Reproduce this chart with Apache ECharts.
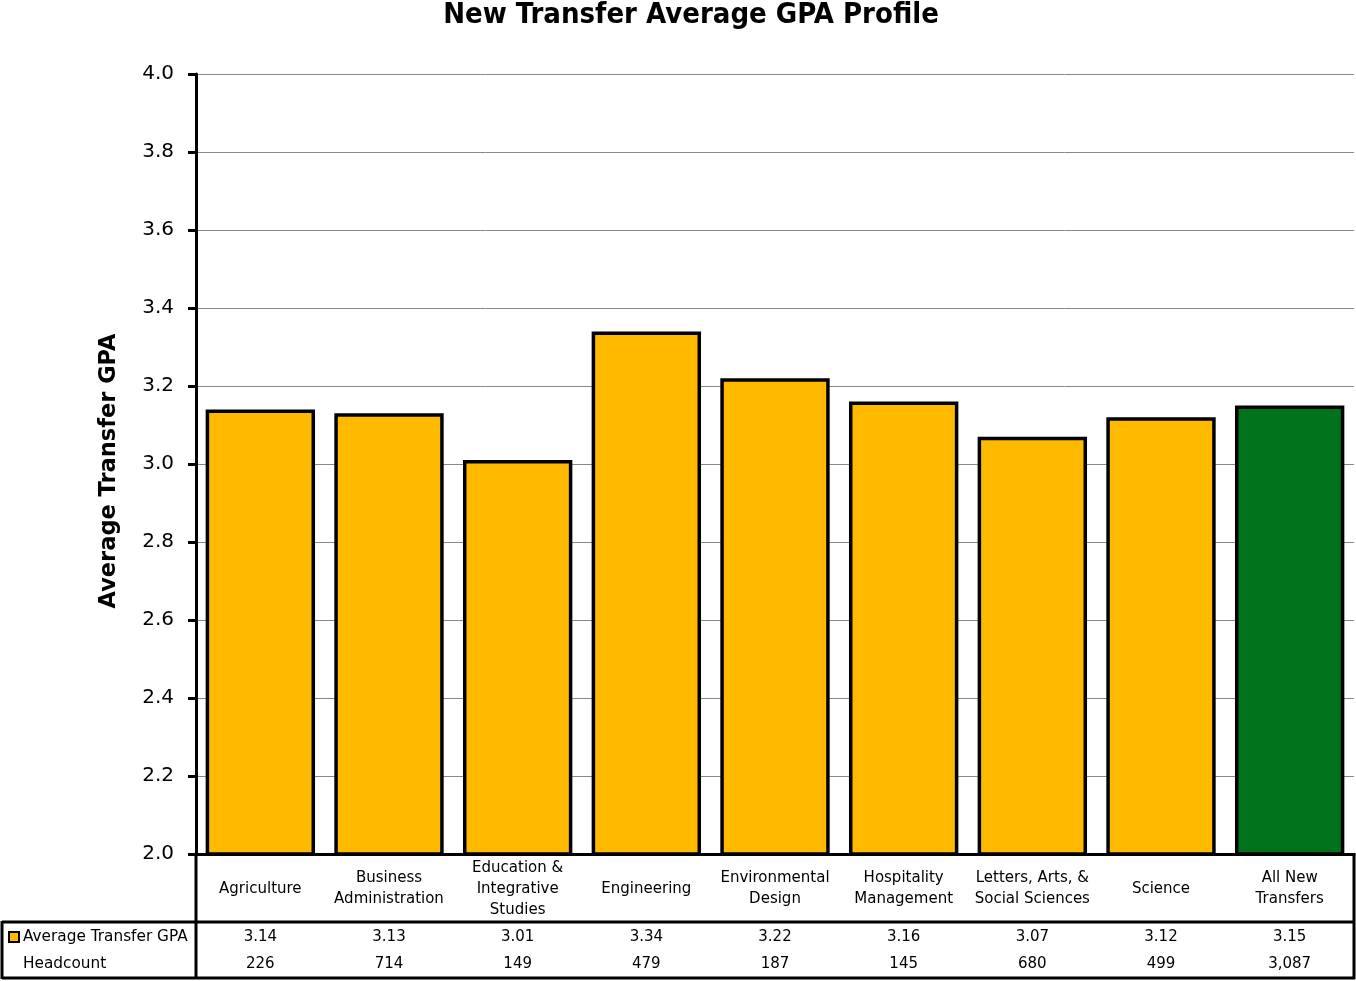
<!DOCTYPE html>
<html>
<head>
<meta charset="utf-8">
<script src="https://cdn.jsdelivr.net/npm/echarts@6/dist/echarts.min.js"></script>
<style>
  html, body { margin: 0; padding: 0; background: #fff; }
  #chart { width: 1356px; height: 981px; }
</style>
</head>
<body>
<div id="chart"></div>
<script>
// chart values
const categories = ['Agriculture', 'Business\nAdministration', 'Education &\nIntegrative\nStudies',
  'Engineering', 'Environmental\nDesign', 'Hospitality\nManagement',
  'Letters, Arts, &\nSocial Sciences', 'Science', 'All New\nTransfers'];
const gpaValues = [3.14, 3.13, 3.01, 3.34, 3.22, 3.16, 3.07, 3.12, 3.15];
const headcounts = [226, 714, 149, 479, 187, 145, 680, 499, 3087];
const yTicks = { min: 2.0, max: 4.0, step: 0.2 };

const YELLOW = '#FFBA00';
const GREEN = '#00721C';
const FONT = 'DejaVu Sans';

const chart = echarts.init(document.getElementById('chart'));

// table row text comes from the data
const gpaLabels = gpaValues.map(v => v.toFixed(2));
const headLabels = headcounts.map(v => v.toLocaleString('en-US'));

function rowAxis(data, margin) {
  return {
    type: 'category',
    position: 'bottom',
    data: data,
    axisLine: { show: false },
    axisTick: { show: false },
    axisLabel: {
      interval: 0,
      margin: margin,
      verticalAlign: 'middle',
      fontFamily: FONT,
      fontSize: 15,
      color: '#000'
    }
  };
}

const option = {
  animation: false,
  title: {
    text: 'New Transfer Average GPA Profile',
    left: 686,
    textAlign: 'center',
    top: -4,
    textStyle: { fontFamily: 'DejaVu Sans Condensed', fontWeight: 'bold', fontSize: 29, color: '#000' }
  },
  grid: { left: 196, right: 2, top: 74, bottom: 127 },
  xAxis: [
    {
      type: 'category',
      data: categories,
      axisLine: { show: true, lineStyle: { color: '#000', width: 3 } },
      axisTick: { show: false },
      axisLabel: {
        interval: 0,
        margin: 35,
        verticalAlign: 'middle',
        align: 'center',
        lineHeight: 21,
        fontFamily: FONT,
        fontSize: 15,
        color: '#000'
      }
    },
    rowAxis(gpaLabels, 83),
    rowAxis(headLabels, 110)
  ],
  yAxis: {
    type: 'value',
    min: yTicks.min,
    max: yTicks.max,
    interval: yTicks.step,
    name: 'Average Transfer GPA',
    nameLocation: 'middle',
    nameGap: 75,
    nameTextStyle: { fontFamily: FONT, fontWeight: 'bold', fontSize: 22.5, color: '#000', padding: [0, 14, 0, 0] },
    axisLine: { show: true, lineStyle: { color: '#000', width: 3 } },
    axisTick: { show: true, length: 8, lineStyle: { color: '#000', width: 3 } },
    axisLabel: {
      margin: 22,
      formatter: v => v.toFixed(1),
      fontFamily: FONT,
      fontSize: 20,
      color: '#000'
    },
    splitLine: { show: true, lineStyle: { color: '#888', width: 1 } }
  },
  series: [{
    type: 'bar',
    xAxisIndex: 0,
    barCategoryGap: '15%',
    data: gpaValues.map((v, i) => ({
      value: v,
      itemStyle: { color: i === gpaValues.length - 1 ? GREEN : YELLOW }
    })),
    itemStyle: { borderColor: '#000', borderWidth: 3.5 }
  }],
  graphic: [
    // data table borders
    { type: 'line', shape: { x1: 196, y1: 854, x2: 196, y2: 979 }, style: { stroke: '#000', lineWidth: 3 } },
    { type: 'line', shape: { x1: 1354, y1: 853, x2: 1354, y2: 979 }, style: { stroke: '#000', lineWidth: 3 } },
    { type: 'line', shape: { x1: 2, y1: 922, x2: 1355, y2: 922 }, style: { stroke: '#000', lineWidth: 3 } },
    { type: 'line', shape: { x1: 2, y1: 978, x2: 1355, y2: 978 }, style: { stroke: '#000', lineWidth: 3 } },
    { type: 'line', shape: { x1: 2, y1: 921, x2: 2, y2: 979 }, style: { stroke: '#000', lineWidth: 3 } },
    // legend key + row headers
    { type: 'rect', shape: { x: 9, y: 932, width: 10, height: 10 }, style: { fill: YELLOW, stroke: '#000', lineWidth: 2 } },
    { type: 'text', x: 23, y: 937, style: { text: 'Average Transfer GPA', fontFamily: FONT, fontSize: 15.3, fill: '#000', verticalAlign: 'middle' } },
    { type: 'text', x: 23, y: 964, style: { text: 'Headcount', fontFamily: FONT, fontSize: 15.3, fill: '#000', verticalAlign: 'middle' } }
  ]
};

chart.setOption(option);
</script>
</body>
</html>
